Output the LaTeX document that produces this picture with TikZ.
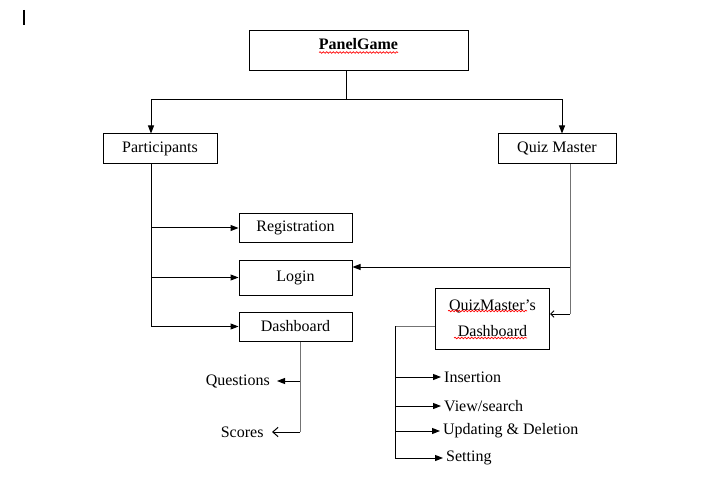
\documentclass[tikz,border=0pt]{standalone}
\usepackage{fontspec}
\setmainfont{Liberation Serif}
\usetikzlibrary{arrows, arrows.meta, positioning, decorations.pathmorphing}

\begin{document}
\begin{tikzpicture}[
	x=0.75pt, y=-0.75pt,
	>={Triangle[length=6pt,width=4.5pt]},
	line width=0.75pt,
	font=\fontsize{12}{14.5}\selectfont
]

\tikzset{
	box/.style={draw, inner sep=0pt, align=center},
	lbl/.style={inner sep=2pt},
	faint/.style={draw=black!55},
	openhead/.style={-{Straight Barb[length=4pt,width=7pt]}},
	spell/.style={red, line width=0.5pt, decorate,
		decoration={snake, amplitude=0.6pt, segment length=2.5pt}}
}

\useasboundingbox (0,0) rectangle (713,495);

% cursor
\coordinate (cur) at (24,10);
\draw[line width=1.5pt] (cur) -- ++(0,15);

% boxes
\node[box, minimum width=219*0.75pt, text height=14.25pt, text depth=15.75pt] (game) at (358.5,51) {\textbf{PanelGame}};
\node[box, minimum width=114*0.75pt, minimum height=30*0.75pt] (part) at (160,149) {Participants};
\node[box, minimum width=118*0.75pt, minimum height=30*0.75pt] (qm) at (557,149) {Quiz Master};
\node[box, minimum width=113*0.75pt, minimum height=28*0.75pt] (reg) at (295.5,228) {Registration};
\node[box, minimum width=113*0.75pt, minimum height=35*0.75pt] (login) at (295.5,277.5) {Login};
\node[box, minimum width=113*0.75pt, minimum height=29*0.75pt] (dash) at (295.5,326.5) {Dashboard};
\node[box, minimum width=114*0.75pt, minimum height=61*0.75pt] (qmd) at (492.5,318.5) {QuizMaster’s\\[5pt]Dashboard};

% labels
\node[lbl, anchor=east, inner xsep=5pt] (quest) at (277,381) {Questions};
\node[lbl, anchor=east, inner xsep=6pt] (score) at (272,432) {Scores};
\node[lbl, anchor=west] (ins) at (441,377) {Insertion};
\node[lbl, anchor=west] (view) at (441,406) {View/search};
\node[lbl, anchor=west] (upd) at (440,431) {Updating \& Deletion};
\node[lbl, anchor=west] (set) at (443,458) {Setting};

% spell check marks
\draw[spell] (319,52.5) -- (398,52.5);
\draw[spell] (448,311) -- (527,311);
\draw[spell] (454,338) -- (527,338);

% top split
\coordinate (gsplit) at (346,100);
\coordinate (pbus) at (151,100);
\coordinate (qbus) at (562,100);
\draw (gsplit |- game.south) -- (gsplit);
\draw[->] (gsplit) -- (pbus) -- (pbus |- part.north);
\draw[->] (gsplit) -- (qbus) -- (qbus |- qm.north);

% participants
\draw (pbus |- part.south) -- (pbus |- dash.west);
\draw[->] (pbus |- reg.west) -- (reg.west);
\draw[->] (pbus |- login.west) -- (login.west);
\draw[->] (pbus |- dash.west) -- (dash.west);

% quiz master
\coordinate (qdrop) at (570,314);
\coordinate (qlog) at (570,267);
\draw[faint] (qdrop |- qm.south) -- (qdrop);
\draw[-{Straight Barb[length=2.5pt,width=5pt]}] (qdrop) -- (qdrop -| qmd.east);
\draw[->] (qlog) -- (qlog -| login.east);

% participant dashboard
\coordinate (dbus) at (300,432);
\draw[faint] (dbus |- dash.south) -- (dbus);
\draw[->] (dbus |- quest.east) -- (quest.east);
\draw[openhead] (dbus) -- (score.east);

% quiz master dashboard
\coordinate (mbus) at (395,326);
\draw[faint] (qmd.west |- mbus) -- (mbus);
\draw (mbus) -- (mbus |- set.west);
\draw[->] (mbus |- ins.west) -- (ins.west);
\draw[->] (mbus |- view.west) -- (view.west);
\draw[->] (mbus |- upd.west) -- (upd.west);
\draw[->] (mbus |- set.west) -- (set.west);
\end{tikzpicture}
\end{document}
